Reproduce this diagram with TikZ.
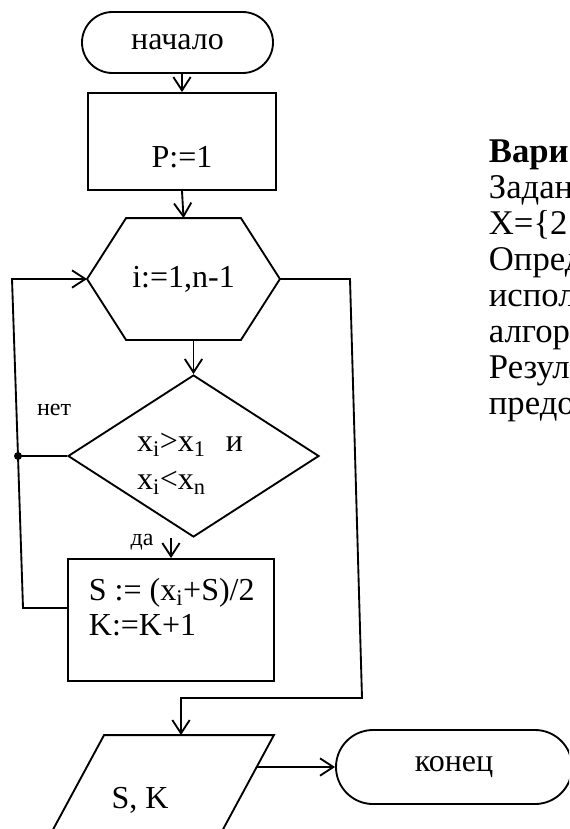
\documentclass[tikz,border=0pt]{standalone}
\usepackage{fontspec}
\setmainfont{Liberation Serif}
\usetikzlibrary{arrows.meta, shapes.misc, shapes.geometric}
\newlength{\px}
\setlength{\px}{0.75pt}

\begin{document}
\begin{tikzpicture}[x=0.75pt, y=-0.75pt, line width=1.4pt,
  >={Straight Barb[length=10pt, width=13pt]},
  every node/.style={font=\fontsize{24}{26.25}\selectfont, inner sep=0pt},
  term/.style={draw, rounded rectangle},
  proc/.style={draw, rectangle},
  lbl/.style={font=\fontsize{18}{20}\selectfont},
  side/.style={anchor=base west, font=\fontsize{26}{28}\selectfont}]
  \useasboundingbox (0,0) rectangle (569,829);
  \clip (0,0) rectangle (569,829);

  % --- Flowchart ---
  \node[term, minimum width=191\px, minimum height=61\px] (start) at (177.5,42.5) {начало};
  \node[proc, minimum width=188\px, minimum height=97\px] (setp) at (182,141.5) {};
  \node (setptxt) at (182,157) {P:=1};
  % loop header (hexagon)
  \node[minimum width=191\px, minimum height=120\px] (loop) at (183.5,279) {i:=1,n-1};
  \draw (loop.west) -- ([xshift=39\px]loop.north west) -- ([xshift=-39\px]loop.north east)
    -- (loop.east) -- ([xshift=-39\px]loop.south east) -- ([xshift=39\px]loop.south west) -- cycle;
  % condition
  \node[draw, diamond, minimum width=251\px, minimum height=162\px] (cond) at (193.5,456) {};
  \node[align=left, font=\fontsize{24}{28.5}\selectfont] (condtxt) at (190,464)
    {x\textsubscript{i}>x\textsubscript{1}\hspace{20\px}и\\x\textsubscript{i}<x\textsubscript{n}};
  \node[lbl] (no) at (54,410) {нет};
  \node[lbl] (yes) at (142,542) {да};
  % loop body
  \node[proc, minimum width=206\px, minimum height=122\px] (body) at (171,620) {};
  \node[align=left, anchor=west] (bodytxt) at (88,607) {S := (x\textsubscript{i}+S)/2\\K:=K+1};
  % output (parallelogram)
  \node[minimum width=168\px, minimum height=124\px] (out) at (155,798) {};
  \draw ([xshift=34\px]out.north west) -- ([xshift=34\px]out.north east)
    -- ([xshift=-34\px]out.south east) -- ([xshift=-34\px]out.south west) -- cycle;
  \node (outtxt) at (140,800) {S, K};
  \node[term, minimum width=236\px, minimum height=74\px] (end) at (454,767) {конец};

  % --- Connectors ---
  \coordinate (dot) at (18,456);
  \coordinate (lb) at (23,608);
  \coordinate (lt) at (12,279);
  \coordinate (rt) at (350,279);
  \coordinate (rb) at (362,698);
  \coordinate (outin) at ([xshift=26\px]out.north);
  \coordinate (outr) at ([xshift=101\px]out.center);
  \draw[->] (setp.north |- start.south) -- (setp.north);
  \draw[->] (setp.south) -- (loop.north);
  \draw[->] (loop.south -| cond.north) -- (cond.north);
  \draw[->] (cond.south -| body.north) -- (body.north);
  \draw (cond.west) -- (dot);
  \fill (dot) circle (4);
  \draw[->] ([yshift=12\px]body.west) -- (lb) -- (dot) -- (lt) -- (loop.west);
  \draw[->] (loop.east) -- (rt) -- (rb) -- (rb -| outin) -- (outin);
  \draw[->] (outr |- end.west) -- (end.west);

  % --- Task text (cut at the edge) ---
  \node[side, font=\fontsize{26}{28}\selectfont\bfseries] (var) at (488,162) {Вари};
  \node[side] (given) at (488,198) {Задан};
  \node[side] (arr) at (488,234) {X=\{2};
  \node[side] (find) at (488,270) {Опред};
  \node[side] (use) at (488,306) {испол};
  \node[side] (algo) at (488,342) {алгор};
  \node[side] (res) at (488,378) {Резул};
  \node[side] (pres) at (488,414) {предо};
\end{tikzpicture}
\end{document}
